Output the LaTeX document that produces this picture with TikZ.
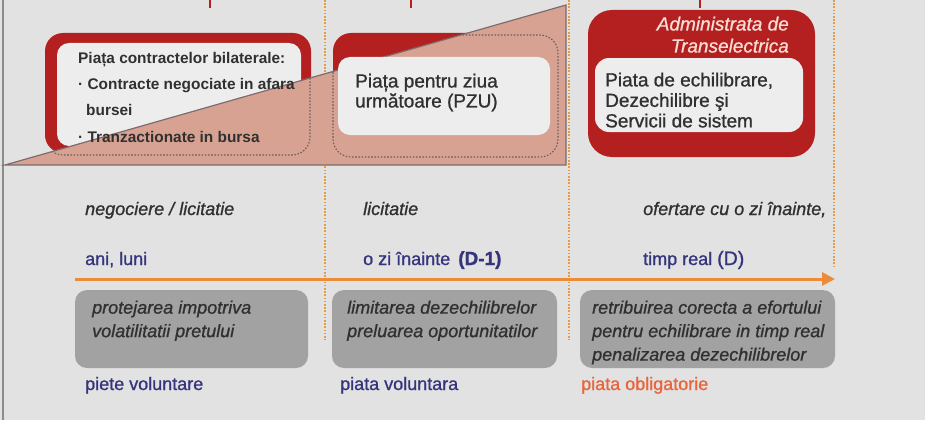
\documentclass[tikz,border=0pt]{standalone}
\usepackage{fontspec}
\setmainfont{Liberation Sans}
\newfontfamily\semi[FakeBold=1.0, ItalicFeatures={FakeBold=1.0}]{Liberation Sans}
\usetikzlibrary{arrows.meta}
\definecolor{bg}{HTML}{E2E2E2}
\definecolor{boxred}{HTML}{B3201F}
\definecolor{salmon}{HTML}{D8A292}
\definecolor{wedgeline}{HTML}{7D6C6C}
\definecolor{innerw}{HTML}{EDEDED}
\definecolor{graybox}{HTML}{A2A2A2}
\definecolor{txt}{HTML}{303030}
\definecolor{navy}{HTML}{35357E}
\definecolor{orangeline}{HTML}{EE8B38}
\definecolor{dotorange}{HTML}{E89A45}
\definecolor{oblig}{HTML}{E8653C}
\definecolor{titlepink}{HTML}{F6DCD4}
\definecolor{edgegray}{HTML}{8C8C8C}
\definecolor{dotgray}{HTML}{6E5E5E}
\begin{document}
\begin{tikzpicture}[x=1pt,y=-1pt,
  redbox/.style={fill=boxred, rounded corners=18pt},
  whitebox/.style={fill=innerw, rounded corners=12pt},
  grayrect/.style={fill=graybox, rounded corners=12pt},
  boxoutline/.style={draw=dotgray, line width=1.1pt, dash pattern=on 1.6pt off 1.6pt, rounded corners=18pt},
  sepline/.style={draw=dotorange, line width=2pt, dash pattern=on 1.6pt off 1.6pt},
  lbl/.style={inner sep=0pt, anchor=base west, text=txt, font=\semi\fontsize{18}{21}\selectfont},
  rowlbl/.style={lbl, font=\semi\itshape\fontsize{18}{21}\selectfont},
  bluelbl/.style={lbl, text=navy},
  multitxt/.style={inner sep=0pt, anchor=north west, align=left, text=txt},
  grytxt/.style={multitxt, font=\semi\itshape\fontsize{18}{23.5}\selectfont},
  arrowline/.style={draw=orangeline, line width=3pt, -{Triangle[length=13pt,width=13pt]}}
]
\useasboundingbox (0,0) rectangle (925,420);
\fill[bg] (0,0) rectangle (925,420);

% left edge line
\coordinate (eT) at (3,0);
\coordinate (eB) at (3,420);
\draw[edgegray, line width=1.5pt] (eT) -- (eB);

% cut-off red marks at top
\coordinate (m1a) at (210,0); \coordinate (m1b) at (210,8);
\coordinate (m2a) at (411,0); \coordinate (m2b) at (411,8);
\coordinate (m3a) at (700,0); \coordinate (m3b) at (700,8);
\draw[boxred, line width=2.5pt] (m1a) -- (m1b);
\draw[boxred, line width=2.5pt] (m2a) -- (m2b);
\draw[boxred, line width=2.5pt] (m3a) -- (m3b);

% dotted separators
\coordinate (s1T) at (325,0); \coordinate (s1B) at (325,340);
\coordinate (s2T) at (569,0); \coordinate (s2B) at (569,340);
\coordinate (s3T) at (834,0); \coordinate (s3B) at (834,267);
\draw[sepline] (s1T) -- (s1B);
\draw[sepline] (s2T) -- (s2B);
\draw[sepline] (s3T) -- (s3B);

% left box
\path[redbox] (45,33) rectangle (311,153);
\path[whitebox] (57,43) rectangle (301,146);
% middle box
\path[redbox] (333,33) rectangle (557,157);

% wedge
\path[fill=salmon] (5,165) -- (566,5) -- (566,165) -- cycle;
\begin{scope}
  \clip (5,165) -- (566,5) -- (566,165) -- cycle;
  \path[boxoutline] (45,33) rectangle (310,155);
  \path[boxoutline] (333,35) rectangle (558,157);
\end{scope}
\draw[wedgeline, line width=1.2pt] (5,165) -- (566,5) -- (566,165) -- cycle;

% middle inner box
\path[whitebox] (338,57) rectangle (550,135);

% right box
\path[redbox, rounded corners=24pt] (588,10) rectangle (815,157);
\path[whitebox, rounded corners=14pt] (595,58) rectangle (803,132);

% box texts
\node[multitxt, font=\bfseries\fontsize{15.4}{26.3}\selectfont] (bil) at (78,52)
  {Piața contractelor bilaterale:\\· Contracte negociate in afara\\\hspace*{8pt}bursei\\· Tranzactionate in bursa};
\node[multitxt, font=\semi\fontsize{19}{20}\selectfont] (pzu) at (355,73.5)
  {Piața pentru ziua\\următoare (PZU)};
\node[inner sep=0pt, anchor=north east, align=right, text=titlepink, font=\semi\itshape\fontsize{19}{22}\selectfont] (adm) at (789,16.5)
  {Administrata de\\Transelectrica};
\node[multitxt, font=\semi\fontsize{19}{20.5}\selectfont] (ech) at (605,72.4)
  {Piata de echilibrare,\\Dezechilibre şi\\Servicii de sistem};

% row 1
\node[rowlbl] (r1a) at (85,215) {negociere / licitatie};
\node[rowlbl] (r1b) at (363,215) {licitatie};
\node[rowlbl] (r1c) at (643,215) {ofertare cu o zi înainte,};

% row 2
\node[bluelbl] (r2a) at (85,265) {ani, luni};
\node[bluelbl] (r2b) at (363,265) {o zi înainte\hspace{8pt}{\bfseries\fontsize{19}{19}\selectfont(D-1)}};
\node[bluelbl] (r2c) at (643,265) {timp real {\fontsize{19.5}{19.5}\selectfont(D)}};

% arrow
\coordinate (arrS) at (75,279);
\coordinate (arrE) at (835,279);
\draw[arrowline] (arrS) -- (arrE);

% gray boxes
\path[grayrect] (75,290) rectangle (308,368);
\path[grayrect] (332,290) rectangle (557,368);
\path[grayrect] (580,290) rectangle (835,368);
\node[grytxt] (g1) at (92,300.4) {protejarea impotriva\\volatilitatii pretului};
\node[grytxt] (g2) at (347,300.4) {limitarea dezechilibrelor\\preluarea oportunitatilor};
\node[grytxt] (g3) at (592,300.4) {retribuirea corecta a efortului\\pentru echilibrare in timp real\\penalizarea dezechilibrelor};

% bottom labels
\node[bluelbl] (b1) at (85,390) {piete voluntare};
\node[bluelbl] (b2) at (340,390) {piata voluntara};
\node[lbl, text=oblig] (b3) at (581,390) {piata obligatorie};
\end{tikzpicture}
\end{document}
